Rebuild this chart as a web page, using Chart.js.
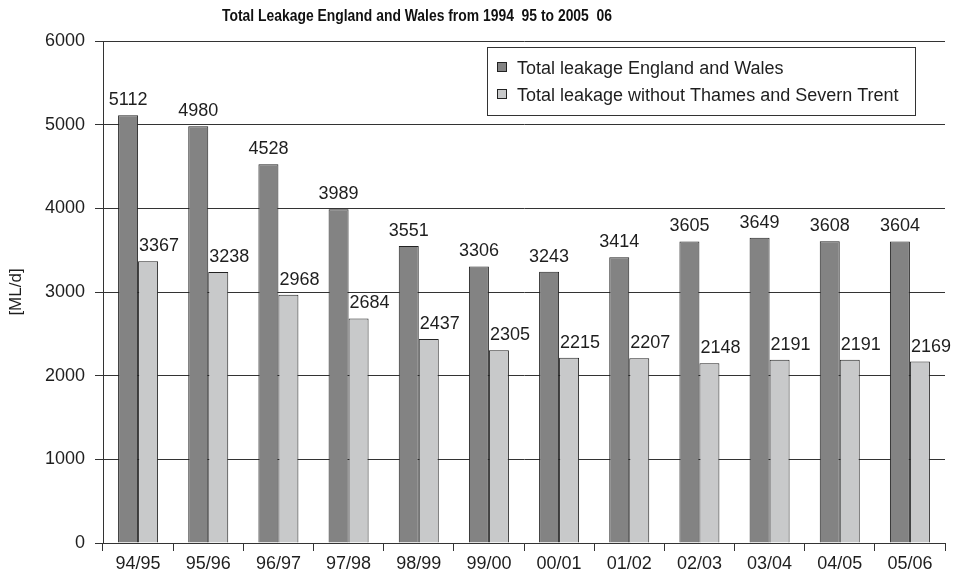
<!DOCTYPE html>
<html>
<head>
<meta charset="utf-8">
<script src="https://cdn.jsdelivr.net/npm/chart.js@4.4.0/dist/chart.umd.min.js"></script>
<style>
  body { margin: 0; background: #fff; }
</style>
</head>
<body>
<canvas id="myChart" width="960" height="575"></canvas>
<script>
// Dados do gráfico
const categories = ['94/95', '95/96', '96/97', '97/98', '98/99', '99/00', '00/01', '01/02', '02/03', '03/04', '04/05', '05/06'];
const totalLeakage = [5112, 4980, 4528, 3989, 3551, 3306, 3243, 3414, 3605, 3649, 3608, 3604];
const leakageWithout = [3367, 3238, 2968, 2684, 2437, 2305, 2215, 2207, 2148, 2191, 2191, 2169];
const seriesNames = ['Total leakage England and Wales', 'Total leakage without Thames and Severn Trent'];
const yMax = 6000;
const yStep = 1000;

const chartTitle = 'Total Leakage England and Wales from 1994  95 to 2005  06';
const yTitle = '[ML/d]';

const darkGrey = '#838383';
const lightGrey = '#c8c9ca';
const lineColor = '#333333';
const textColor = '#1e1e1e';
const baseFont = '"Liberation Sans", Arial, sans-serif';

// Desenha título, rótulo do eixo y, valores e legenda
const extras = {
    id: 'extras',
    afterDatasetsDraw(chart) {
        const ctx = chart.ctx;
        const shift = [0, 11];
        ctx.save();
        ctx.font = '18px ' + baseFont;
        ctx.fillStyle = textColor;
        ctx.textAlign = 'center';
        ctx.textBaseline = 'alphabetic';
        chart.data.datasets.forEach((ds, i) => {
            chart.getDatasetMeta(i).data.forEach((bar, j) => {
                ctx.fillText(String(ds.data[j]), bar.x + shift[i], bar.y - 10);
            });
        });
        ctx.restore();
    },
    afterDraw(chart) {
        const ctx = chart.ctx;
        const area = chart.chartArea;
        ctx.save();

        // título (fonte condensada: escala horizontal)
        ctx.save();
        ctx.fillStyle = '#111';
        ctx.font = 'bold 16px ' + baseFont;
        ctx.textAlign = 'center';
        ctx.textBaseline = 'alphabetic';
        const w = ctx.measureText(chartTitle).width;
        ctx.translate(417, 21);
        ctx.scale(390 / w, 1);
        ctx.fillText(chartTitle, 0, 0);
        ctx.restore();

        // rótulo do eixo y
        ctx.save();
        ctx.translate(16, (area.top + area.bottom) / 2);
        ctx.rotate(-Math.PI / 2);
        ctx.font = '17px ' + baseFont;
        ctx.fillStyle = textColor;
        ctx.textAlign = 'center';
        ctx.textBaseline = 'middle';
        ctx.fillText(yTitle, 0, 0);
        ctx.restore();

        // legenda
        ctx.fillStyle = '#fff';
        ctx.fillRect(487.5, 47.5, 428, 68);
        ctx.strokeStyle = lineColor;
        ctx.lineWidth = 1;
        ctx.strokeRect(487.5, 47.5, 428, 68);
        const colors = [darkGrey, lightGrey];
        const rows = [74, 101];
        ctx.font = '18px ' + baseFont;
        ctx.textAlign = 'left';
        seriesNames.forEach((name, i) => {
            ctx.fillStyle = colors[i];
            ctx.fillRect(497.5, rows[i] - 11.5, 9, 9);
            ctx.strokeStyle = '#222';
            ctx.strokeRect(497.5, rows[i] - 11.5, 9, 9);
            ctx.fillStyle = textColor;
            ctx.fillText(name, 517, rows[i]);
        });
        ctx.restore();
    }
};

const chartData = {
    labels: categories,
    datasets: [{
        label: seriesNames[0],
        data: totalLeakage,
        backgroundColor: darkGrey,
        borderColor: '#222',
        borderWidth: 1,
        categoryPercentage: 0.57,
        barPercentage: 1.0
    }, {
        label: seriesNames[1],
        data: leakageWithout,
        backgroundColor: lightGrey,
        borderColor: '#222',
        borderWidth: 1,
        categoryPercentage: 0.57,
        barPercentage: 1.0
    }]
};

const ctx = document.getElementById('myChart').getContext('2d');
const myChart = new Chart(ctx, {
    type: 'bar',
    data: chartData,
    plugins: [extras],
    options: {
        responsive: false,
        animation: false,
        devicePixelRatio: 1,
        layout: { padding: { top: 41, right: 15, left: 0, bottom: 0 } },
        plugins: {
            legend: { display: false },
            title: { display: false },
            tooltip: { enabled: false }
        },
        scales: {
            x: {
                afterFit(scale) { scale.height = 32; },
                grid: {
                    offset: true,
                    drawOnChartArea: true,
                    color: c => c.index === categories.length ? lineColor : 'rgba(0,0,0,0)',
                    tickColor: lineColor,
                    tickLength: 8
                },
                border: { display: true, color: lineColor },
                ticks: {
                    color: textColor,
                    font: { family: baseFont, size: 18 },
                    padding: 2,
                    maxRotation: 0
                }
            },
            y: {
                min: 0,
                max: yMax,
                afterFit(scale) { scale.width = 103; },
                grid: {
                    color: lineColor,
                    tickColor: lineColor,
                    tickLength: 8
                },
                border: { display: true, color: lineColor },
                ticks: {
                    stepSize: yStep,
                    color: textColor,
                    font: { family: baseFont, size: 18 },
                    padding: 10,
                    callback: value => String(value)
                }
            }
        }
    }
});
</script>
</body>
</html>
